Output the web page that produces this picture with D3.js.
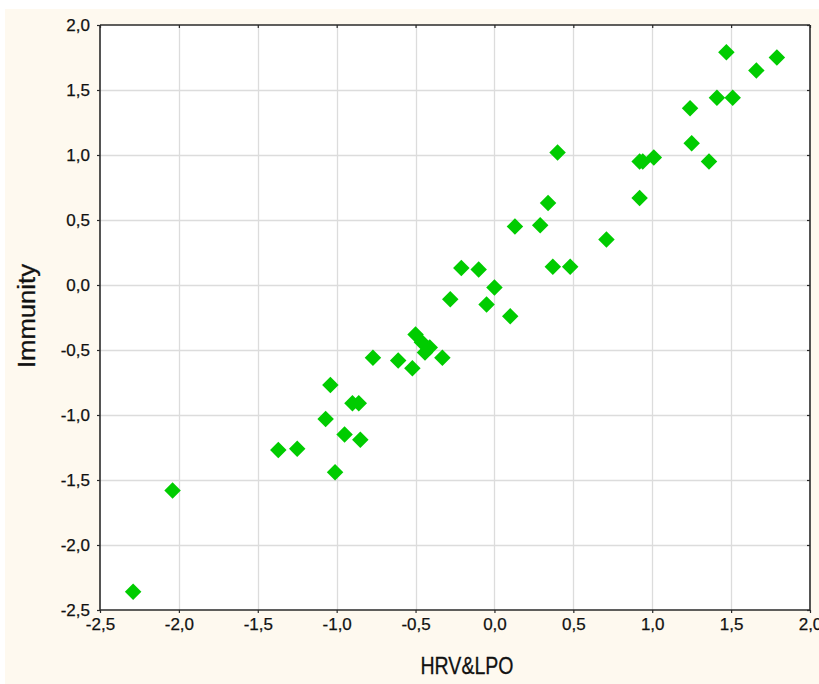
<!DOCTYPE html>
<html>
<head>
<meta charset="utf-8">
<script src="https://cdn.jsdelivr.net/npm/d3@7"></script>
<style>
  html, body { margin: 0; padding: 0; background: #ffffff; }
  svg { display: block; }
</style>
</head>
<body>
<svg id="chart" width="819" height="684"></svg>
<script>
// ---- Data ----
const xValues = [-2.29, -2.04, -1.37, -1.25, -1.01, -1.07, -1.04, -0.95, -0.90, -0.86,
                 -0.85, -0.77, -0.61, -0.52, -0.50, -0.46, -0.41, -0.44, -0.33, -0.28,
                 -0.21, -0.10, -0.05, 0.00, 0.10, 0.13, 0.29, 0.34, 0.37, 0.40,
                 0.48, 0.71, 0.92, 0.92, 0.94, 1.01, 1.24, 1.25, 1.36, 1.41,
                 1.47, 1.51, 1.66, 1.79];
const yValues = [-2.36, -1.58, -1.27, -1.26, -1.44, -1.03, -0.77, -1.15, -0.91, -0.91,
                 -1.19, -0.56, -0.58, -0.64, -0.38, -0.44, -0.48, -0.52, -0.56, -0.11,
                 0.13, 0.12, -0.15, -0.02, -0.24, 0.45, 0.46, 0.63, 0.14, 1.02,
                 0.14, 0.35, 0.67, 0.95, 0.95, 0.98, 1.36, 1.09, 0.95, 1.44,
                 1.79, 1.44, 1.65, 1.75];
const xTicks = [-2.5, -2.0, -1.5, -1.0, -0.5, 0.0, 0.5, 1.0, 1.5, 2.0];
const yTicks = [-2.5, -2.0, -1.5, -1.0, -0.5, 0.0, 0.5, 1.0, 1.5, 2.0];
const xTitle = "HRV&LPO";
const yTitle = "Immunity";

// ---- Layout ----
const svg = d3.select("#chart");
const W = 819, H = 684;
const plot = { left: 100, top: 25, right: 810, bottom: 610 };
const fmt = v => d3.format(".1f")(v).replace(".", ",").replace("−", "-");

svg.append("rect").attr("x", 5).attr("y", 9).attr("width", W - 5).attr("height", H - 9)
   .attr("fill", "#fef9ef");

const x = d3.scaleLinear().domain([-2.5, 2.0]).range([plot.left, plot.right]);
const y = d3.scaleLinear().domain([-2.5, 2.0]).range([plot.bottom, plot.top]);

svg.append("rect").attr("x", plot.left).attr("y", plot.top)
   .attr("width", plot.right - plot.left).attr("height", plot.bottom - plot.top)
   .attr("fill", "#ffffff");

// grid
const grid = svg.append("g");
grid.selectAll("line.gx").data(xTicks.slice(1, -1)).enter().append("line")
  .attr("x1", d => Math.round(x(d)) + 0.5).attr("x2", d => Math.round(x(d)) + 0.5)
  .attr("y1", plot.top).attr("y2", plot.bottom)
  .attr("stroke", "#dcdcdc").attr("stroke-width", 1.3);
grid.selectAll("line.gy").data(yTicks.slice(1, -1)).enter().append("line")
  .attr("y1", d => Math.round(y(d)) + 0.5).attr("y2", d => Math.round(y(d)) + 0.5)
  .attr("x1", plot.left).attr("x2", plot.right)
  .attr("stroke", "#dcdcdc").attr("stroke-width", 1.3);

// axes
const font = "'Liberation Sans', Arial, sans-serif";
const xAxis = d3.axisBottom(x).tickValues(xTicks).tickFormat(fmt).tickSize(3).tickPadding(5);
const yAxis = d3.axisLeft(y).tickValues(yTicks).tickFormat(fmt).tickSize(3).tickPadding(7);
const xTop = d3.axisTop(x).tickValues(xTicks).tickFormat("").tickSize(-3);
const yRight = d3.axisRight(y).tickValues(yTicks).tickFormat("").tickSize(-3);

function styleAxis(g) {
  g.select(".domain").attr("stroke", "#2a2a2a").attr("stroke-width", 1.6);
  g.selectAll(".tick line").attr("stroke", "#2a2a2a").attr("stroke-width", 1.2);
  g.selectAll(".tick text").attr("fill", "#111111")
    .attr("stroke", "#111111").attr("stroke-width", 0.25)
    .style("font-family", font).style("font-size", "17px");
}

svg.append("g").attr("transform", `translate(0,${plot.bottom})`).call(xAxis).call(styleAxis)
   .selectAll(".domain").attr("d", `M${plot.left},0H${plot.right}`);
svg.append("g").attr("transform", `translate(${plot.left},0)`).call(yAxis).call(styleAxis)
   .selectAll(".domain").attr("d", `M0,${plot.top}V${plot.bottom}`);
svg.append("g").attr("transform", `translate(0,${plot.top})`).call(xTop).call(styleAxis)
   .selectAll(".domain").attr("d", `M${plot.left},0H${plot.right}`);
svg.append("g").attr("transform", `translate(${plot.right},0)`).call(yRight).call(styleAxis)
   .selectAll(".domain").attr("d", `M0,${plot.top}V${plot.bottom}`);

// points (diamonds)
const pts = xValues.map((v, i) => ({ x: v, y: yValues[i] }));
const diamond = d3.symbol().type(d3.symbolSquare).size(136);
svg.append("g").selectAll("path").data(pts).enter().append("path")
  .attr("d", diamond)
  .attr("transform", d => `translate(${x(d.x)},${y(d.y)}) rotate(45)`)
  .attr("fill", "#00cc00");

// titles
svg.append("text").attr("x", 467).attr("y", 674).attr("text-anchor", "middle")
  .attr("fill", "#111111").attr("stroke", "#111111").attr("stroke-width", 0.3)
  .style("font-family", font).style("font-size", "24px")
  .attr("textLength", 93).attr("lengthAdjust", "spacingAndGlyphs")
  .text(xTitle);
svg.append("text").attr("transform", "translate(35,316) rotate(-90)").attr("text-anchor", "middle")
  .attr("fill", "#111111").attr("stroke", "#111111").attr("stroke-width", 0.3)
  .style("font-family", font).style("font-size", "23px")
  .attr("textLength", 104).attr("lengthAdjust", "spacingAndGlyphs")
  .text(yTitle);
</script>
</body>
</html>
